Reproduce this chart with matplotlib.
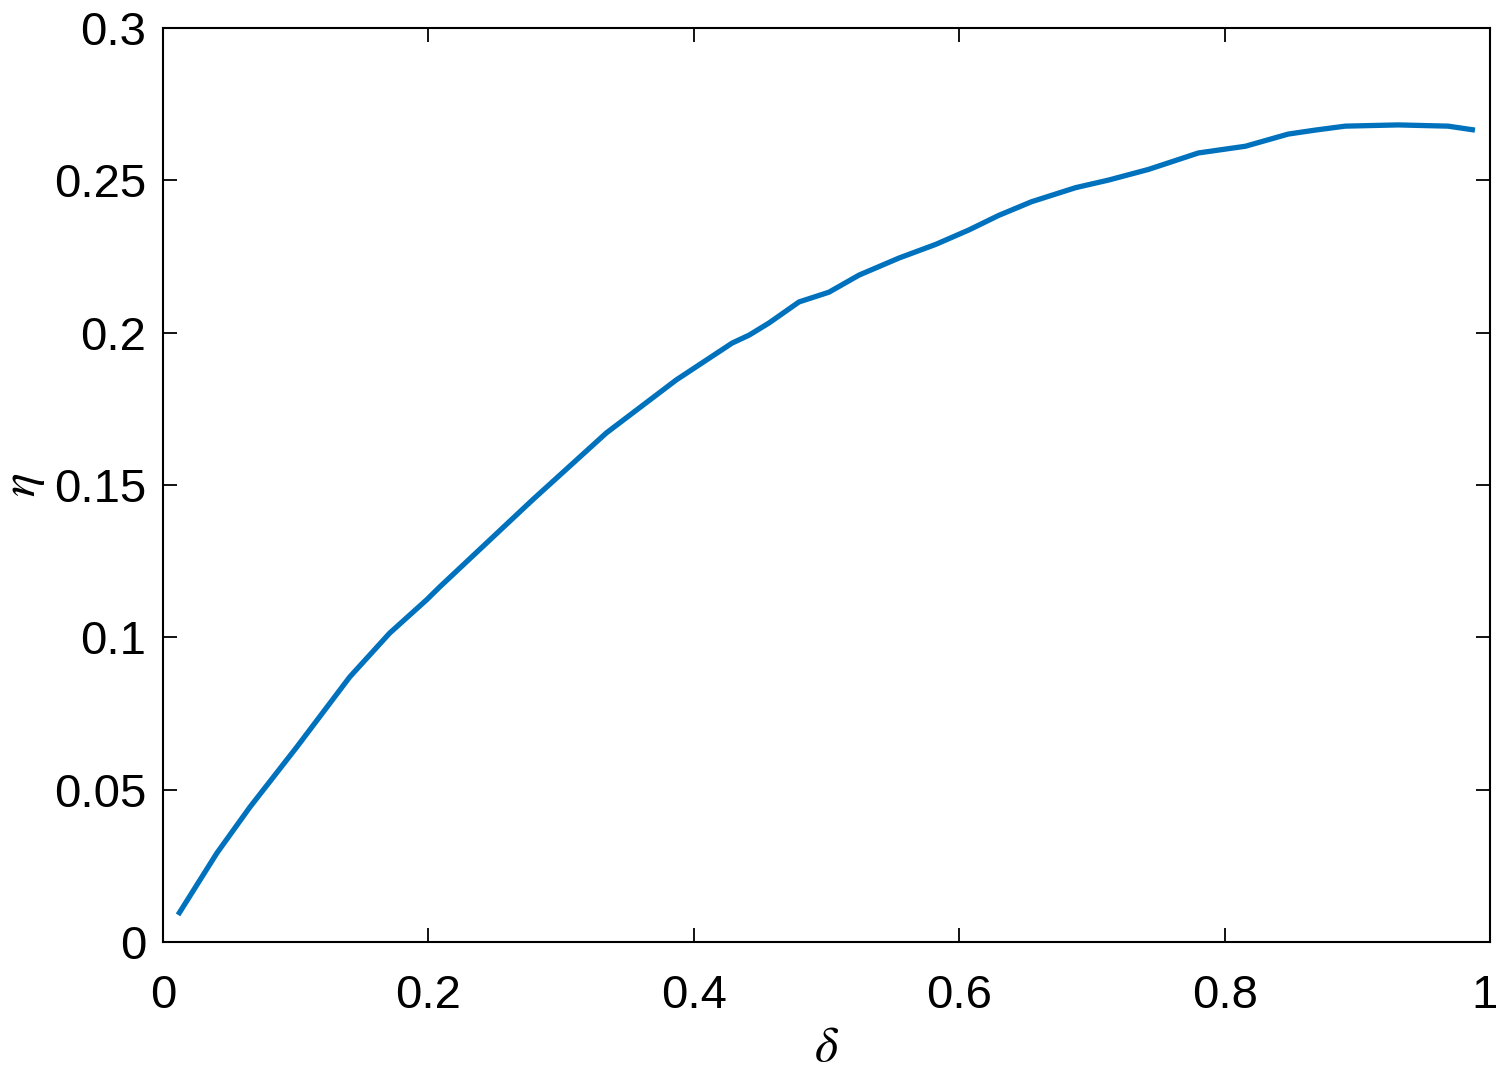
import matplotlib
matplotlib.use("Agg")
import matplotlib.pyplot as plt
from matplotlib.transforms import ScaledTranslation

delta = [0.0113, 0.0406, 0.0655, 0.1008, 0.1407, 0.1708, 0.1986, 0.2084, 0.2784, 0.3341,
         0.3868, 0.4289, 0.4417, 0.4567, 0.4793, 0.5019, 0.5245, 0.5546, 0.5824, 0.6072,
         0.6298, 0.6546, 0.6877, 0.7126, 0.7427, 0.7803, 0.8157, 0.8480, 0.8683, 0.8909,
         0.9308, 0.9684, 0.9887]
eta = [0.0089, 0.0292, 0.0443, 0.0640, 0.0870, 0.1014, 0.1123, 0.1165, 0.1451, 0.1671,
       0.1845, 0.1966, 0.1992, 0.2032, 0.2101, 0.2133, 0.2189, 0.2245, 0.2290, 0.2337,
       0.2385, 0.2430, 0.2476, 0.2501, 0.2536, 0.2590, 0.2612, 0.2652, 0.2665, 0.2678,
       0.2682, 0.2678, 0.2665]

xticks = [0, 0.2, 0.4, 0.6, 0.8, 1]
xticklabels = ["0", "0.2", "0.4", "0.6", "0.8", "1"]
yticks = [0, 0.05, 0.1, 0.15, 0.2, 0.25, 0.3]
yticklabels = ["0", "0.05", "0.1", "0.15", "0.2", "0.25", "0.3"]

plt.rcParams['font.family'] = ['Liberation Sans', 'DejaVu Sans']
plt.rcParams['mathtext.fontset'] = 'stix'

fig = plt.figure(figsize=(15, 10.87), dpi=100)
ax = fig.add_axes([0.1087, 0.1334, 0.8846, 0.8408])
ax.plot(delta, eta, color=(0.0, 0.447, 0.741), linewidth=3.8,
        solid_capstyle='butt', solid_joinstyle='round')
ax.set_xlim(0, 1)
ax.set_ylim(0, 0.3)
ax.set_xticks(xticks)
ax.set_xticklabels(xticklabels)
ax.set_yticks(yticks)
ax.set_yticklabels(yticklabels)
ax.tick_params(direction='in', length=10, width=1.3, top=True, right=True,
               labelsize=34, colors='black')
ax.tick_params(axis='x', pad=23)
ax.tick_params(axis='y', pad=12)
last = ax.get_xticklabels()[-1]
last.set_transform(last.get_transform() + ScaledTranslation(-5 / 100, 0, fig.dpi_scale_trans))
for s in ax.spines.values():
    s.set_linewidth(1.5)
ax.set_xlabel(r'$\delta$', fontsize=36, labelpad=5)
ax.set_ylabel(r'$\eta$', fontsize=36, labelpad=5)
fig.savefig("out.png", dpi=100)
